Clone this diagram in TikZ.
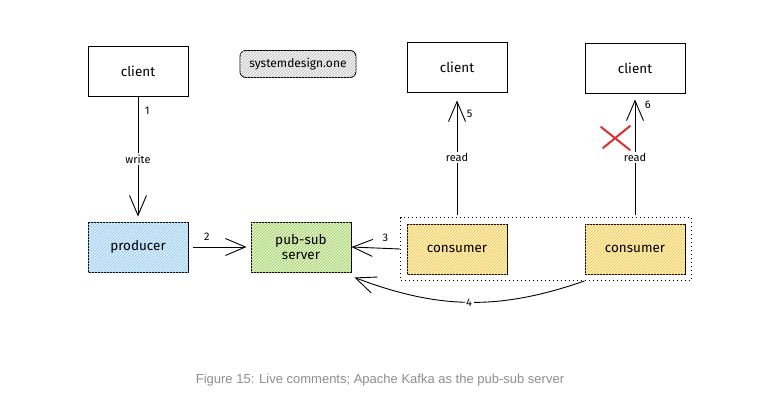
\documentclass[tikz,border=0pt]{standalone}
\usepackage{fontspec}
\setmainfont{Liberation Sans}
\newfontfamily\sketchfont{Fira Sans}
\usetikzlibrary{arrows.meta, positioning, patterns, fit}

\definecolor{prodfill}{HTML}{DDEFFC}
\definecolor{prodline}{HTML}{8CC6F2}
\definecolor{srvfill}{HTML}{E3F2CC}
\definecolor{srvline}{HTML}{96CB55}
\definecolor{consfill}{HTML}{FFF0C4}
\definecolor{consline}{HTML}{F3C33F}
\definecolor{tagfill}{HTML}{F2F2F2}
\definecolor{tagline}{HTML}{BDBDBD}
\definecolor{crossred}{HTML}{D9302F}
\definecolor{capgray}{HTML}{8E8E8E}

\begin{document}
\begin{tikzpicture}[
		x=1pt, y=-1pt,
		box/.style={draw, line width=0.9pt, minimum width=100pt, minimum height=50pt, align=center,
			font=\sketchfont\fontsize{13.5}{15}\selectfont},
		hatch/.style 2 args={fill=#1, postaction={pattern=north east lines, pattern color=#2}},
		lbl/.style={font=\sketchfont\fontsize{11}{13}\selectfont, inner sep=1.5pt},
		flow/.style={line width=0.9pt, -{Straight Barb[length=20pt, width=17pt, line width=0.9pt]}},
		>=Stealth
	]
		\useasboundingbox (0,0) rectangle (759,400);

		% top row: clients and tag
		\node[box] (cl1) at (138,71) {client};
		\node[box] (cl2) at (457,67) {client};
		\node[box] (cl3) at (635,68) {client};
		\node[draw, line width=0.9pt, rounded corners=6pt, minimum width=116pt, minimum height=27pt,
			hatch={tagfill}{tagline}, font=\sketchfont\fontsize{12}{14}\selectfont] (tag) at (298,64) {systemdesign.one};

		% bottom row: producer, server, consumers
		\node[box, hatch={prodfill}{prodline}] (prod) at (138,247) {producer};
		\node[box, hatch={srvfill}{srvline}] (srv) at (301,247) {pub-sub\\server};
		\node[box, hatch={consfill}{consline}] (cons1) at (457,249) {consumer};
		\node[box, hatch={consfill}{consline}] (cons2) at (635,249) {consumer};
		\node[draw, line width=1pt, dash pattern=on 1.2pt off 2.8pt, inner sep=6pt, fit=(cons1)(cons2)] (grp) {};

		% connectors
		\draw[flow] (cl1.south) -- node[lbl, fill=white, pos=0.52] {write}
			node[lbl, pos=0.12, right=5pt] {1} ([yshift=5pt]prod.north);
		\draw[flow] ([xshift=5pt]prod.east) -- node[lbl, pos=0.25, above=5pt] {2} ([xshift=-4pt]srv.west);
		\draw[flow] (grp.west) -- node[lbl, pos=0.3, above=5pt] {3} (srv.east);
		\draw[flow] ([yshift=2pt]grp.north -| cons1) -- node[lbl, fill=white, pos=0.5] {read}
			node[lbl, pos=0.88, right=8pt] {5} ([yshift=-8pt]cl2.south);
		\draw[flow] ([yshift=2pt]grp.north -| cons2) -- node[lbl, fill=white, pos=0.5] {read}
			node[lbl, pos=0.95, right=8pt] {6} ([yshift=-6pt]cl3.south);
		\draw[flow] (grp.south -| cons2.west) to[bend left=20] node[lbl, fill=white, pos=0.5] {4}
			([xshift=3pt, yshift=-5pt]srv.south east);

		% failed delivery mark
		\draw[crossred, line width=2pt, line cap=round] (603,148) -- (630,126) (601,127) -- (630,150);

		% caption
		\node[font=\fontsize{13}{15}\selectfont, text=capgray] (cap) at (380,380)
			{Figure 15: Live comments; Apache Kafka as the pub-sub server};
	\end{tikzpicture}
\end{document}
